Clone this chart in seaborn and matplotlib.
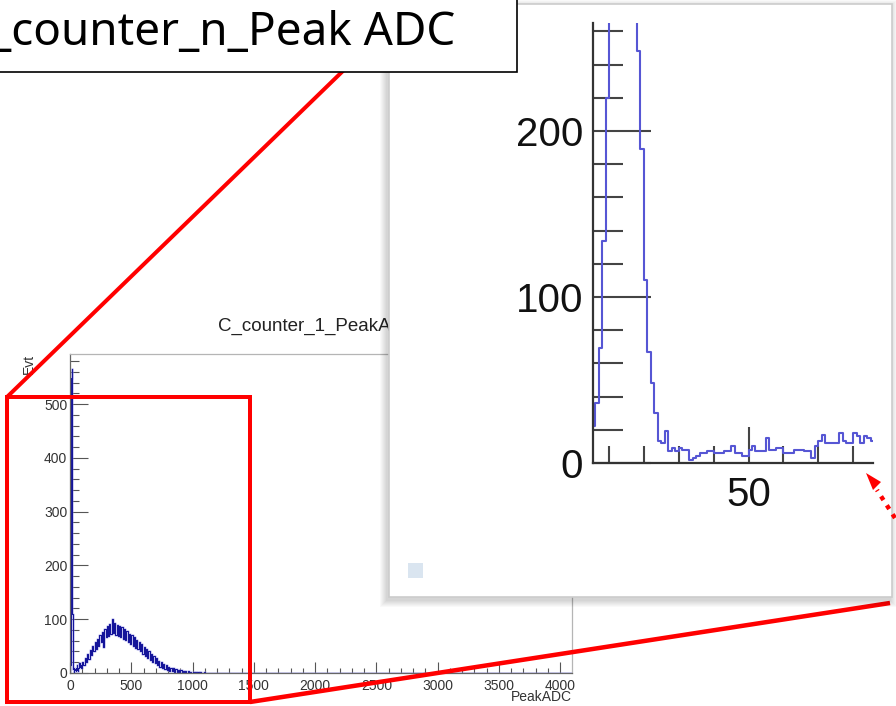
import numpy as np
import pandas as pd
import matplotlib
matplotlib.use("Agg")
import matplotlib.pyplot as plt
from matplotlib.patches import Rectangle, Polygon
from matplotlib.ticker import MultipleLocator, FixedLocator
import seaborn as sns

# ---------------- data ----------------
# PeakADC counts in 1-count bins, ADC 0..89 (pedestal spike region)
fine_counts = [0, 1, 4, 9, 14, 22, 36, 69, 134, 220,
               330, 450, 548, 565, 520, 440, 360, 300, 248, 189,
               110, 67, 48, 30, 13, 12, 19, 7, 9, 7,
               9, 8, 8, 2, 3, 4, 6, 6, 7, 7,
               6, 6, 6, 7, 7, 10, 6, 6, 4, 4,
               8, 10, 7, 7, 7, 15, 8, 8, 9, 9,
               6, 6, 6, 8, 8, 8, 7, 7, 3, 10,
               13, 17, 12, 12, 12, 12, 18, 13, 12, 12,
               18, 16, 12, 16, 15, 13, 14, 12, 15, 13]

# PeakADC counts in 10-count bins, ADC 90..1200 (signal bump)
coarse_counts = [10, 21, 14, 28, 20, 35, 26, 42, 33, 50,
                 40, 58, 45, 64, 50, 70, 57, 77, 48, 82,
                 66, 88, 68, 92, 72, 100, 74, 93, 70, 90,
                 68, 88, 66, 85, 64, 82, 61, 78, 57, 73,
                 54, 70, 51, 66, 47, 62, 44, 58, 40, 53,
                 36, 49, 32, 45, 28, 41, 25, 36, 21, 31,
                 18, 27, 14, 23, 11, 20, 9, 17, 7, 15,
                 6, 12, 4, 10, 3, 9, 2, 7, 2, 6,
                 1, 5, 1, 4, 0, 3, 0, 3, 0, 2,
                 0, 2, 0, 1, 0, 1, 0, 1, 0, 0,
                 1, 0, 0, 0, 0, 0, 0, 0, 0, 0, 0]

main_xticks = [0, 500, 1000, 1500, 2000, 2500, 3000, 3500, 4000]
main_yticks = [0, 100, 200, 300, 400, 500]
inset_yticks = [0, 100, 200]
inset_xticks = [50]

main_title = "C_counter_1_PeakADC"
box_title = "C_counter_n_Peak ADC"
x_title = "PeakADC"
y_title = "Evt"

# ---------------- histogram table (left bin edges, steps-post) ----------------
fine_edges = np.arange(0, len(fine_counts), 1.0)
coarse_edges = np.arange(90, 90 + 10 * len(coarse_counts), 10.0)
hist = pd.DataFrame({
    "adc": np.concatenate([fine_edges, coarse_edges, [4096.0]]),
    "evt": np.array(fine_counts + coarse_counts + [0], dtype=float),
})

# ---------------- figure ----------------
sns.set_style("ticks")
plt.rcParams["font.family"] = ["Liberation Sans", "DejaVu Sans"]

W, H = 896, 706
fig = plt.figure(figsize=(W / 100, H / 100), dpi=100)


def box(l, t, r, b):
    """pixel box (left, top, right, bottom) -> figure fraction rect"""
    return [l / W, 1 - b / H, (r - l) / W, (b - t) / H]


def overlay(z):
    a = fig.add_axes([0, 0, 1, 1], zorder=z)
    a.set_xlim(0, W)
    a.set_ylim(H, 0)
    a.axis("off")
    a.patch.set_visible(False)
    return a


PT = 72 / 100  # points per pixel

# main ROOT-style histogram (soft halo under the dark trace)
ax = fig.add_axes(box(70, 354, 572, 673), zorder=1)
sns.lineplot(data=hist, x="adc", y="evt", drawstyle="steps-post",
             color="#8a8ae0", linewidth=1.8, alpha=0.5, ax=ax)
sns.lineplot(data=hist, x="adc", y="evt", drawstyle="steps-post",
             color="#14149a", linewidth=0.75, ax=ax)
ax.set_xlim(0, 4096)
ax.set_ylim(0, 593)
ax.set_xlabel("")
ax.set_ylabel("")
ax.xaxis.set_major_locator(FixedLocator(main_xticks))
ax.xaxis.set_minor_locator(MultipleLocator(100))
ax.yaxis.set_major_locator(FixedLocator(main_yticks))
ax.yaxis.set_minor_locator(MultipleLocator(20))
ax.tick_params(axis="x", which="major", direction="in", length=11 * PT, width=0.8,
               color="#555555", pad=4, labelsize=10, labelcolor="#333333")
ax.tick_params(axis="x", which="minor", direction="in", length=5 * PT, width=0.8,
               color="#555555")
ax.tick_params(axis="y", which="major", direction="in", length=18 * PT, width=0.8,
               color="#555555", pad=2, labelsize=10, labelcolor="#333333")
ax.tick_params(axis="y", which="minor", direction="in", length=9 * PT, width=0.8,
               color="#555555")
for s in ("left", "bottom"):
    ax.spines[s].set_color("#666666")
    ax.spines[s].set_linewidth(0.9)
for s in ("top", "right"):
    ax.spines[s].set_color("#b5b5b5")
    ax.spines[s].set_linewidth(0.9)
ax.patch.set_visible(False)

fig.text(318 / W, 1 - 326 / H, main_title, ha="center", va="center",
         fontsize=13.5, color="#222222", zorder=1.5)
fig.text(572 / W, 1 - 697 / H, x_title, ha="right", va="center",
         fontsize=10, color="#333333", zorder=1.5)
fig.text(29 / W, 1 - 354 / H, y_title, ha="center", va="top", rotation=90,
         fontsize=10, color="#333333", zorder=1.5)

# red highlight frame and connector lines
deco = overlay(2)
deco.add_patch(Rectangle((7, 397), 243, 305, fill=False, ec="#ff0000", lw=4 * PT,
                         joinstyle="miter"))
deco.plot([7, 380], [397, 35], color="#ff0000", lw=4 * PT, solid_capstyle="butt")
deco.plot([250, 890], [702, 603], color="#ff0000", lw=4.5 * PT, solid_capstyle="butt")

# magnified panel with soft shadow
panel = overlay(3)
for k in range(7, 0, -1):
    panel.add_patch(Rectangle((389 - k - 2, 4 - k + 3), 503 + 2 * k, 593 + 2 * k,
                              fc="black", ec="none", alpha=0.025))
panel.add_patch(Rectangle((389, 4), 503, 593, fc="white", ec="#cccccc", lw=1.2))
panel.add_patch(Rectangle((408, 563), 15, 15, fc="#dae5f0", ec="none"))

axi = fig.add_axes(box(593, 23, 873, 463), zorder=4)
sns.lineplot(data=hist, x="adc", y="evt", drawstyle="steps-post",
             color="#5656d4", linewidth=1.5, ax=axi)
axi.set_xlim(5.4, 85.7)
axi.set_ylim(0, 265)
axi.set_xlabel("")
axi.set_ylabel("")
axi.patch.set_visible(False)
axi.xaxis.set_major_locator(FixedLocator(inset_xticks))
axi.xaxis.set_minor_locator(MultipleLocator(10))
axi.yaxis.set_major_locator(FixedLocator(inset_yticks))
axi.yaxis.set_minor_locator(MultipleLocator(20))
axi.tick_params(axis="x", which="major", direction="in", length=36 * PT, width=1.5,
                color="#444444", pad=9, labelsize=29, labelcolor="#111111")
axi.tick_params(axis="x", which="minor", direction="in", length=17 * PT, width=1.5,
                color="#444444")
axi.tick_params(axis="y", which="major", direction="in", length=58 * PT, width=1.5,
                color="#444444", pad=7, labelsize=29, labelcolor="#111111")
axi.tick_params(axis="y", which="minor", direction="in", length=30 * PT, width=1.5,
                color="#444444")
for s in ("top", "right"):
    axi.spines[s].set_visible(False)
for s in ("left", "bottom"):
    axi.spines[s].set_color("#333333")
    axi.spines[s].set_linewidth(1.6)

# title box and pointer arrow
top = overlay(5)
top.add_patch(Rectangle((-10, -10), 527, 82, fc="white", ec="black", lw=1.2))
top.text(455, 45, box_title, ha="right", va="baseline", fontsize=33,
         family=["Noto Sans", "DejaVu Sans"], color="black")
top.plot([895, 877], [518, 490], color="#ff0000", lw=3.2,
         linestyle=(0, (1.0, 1.4)), dash_capstyle="butt")
top.add_patch(Polygon([(866, 473), (881, 482), (873, 490)], closed=True,
                      fc="#ff0000", ec="none"))

fig.savefig("out.png", dpi=100)
